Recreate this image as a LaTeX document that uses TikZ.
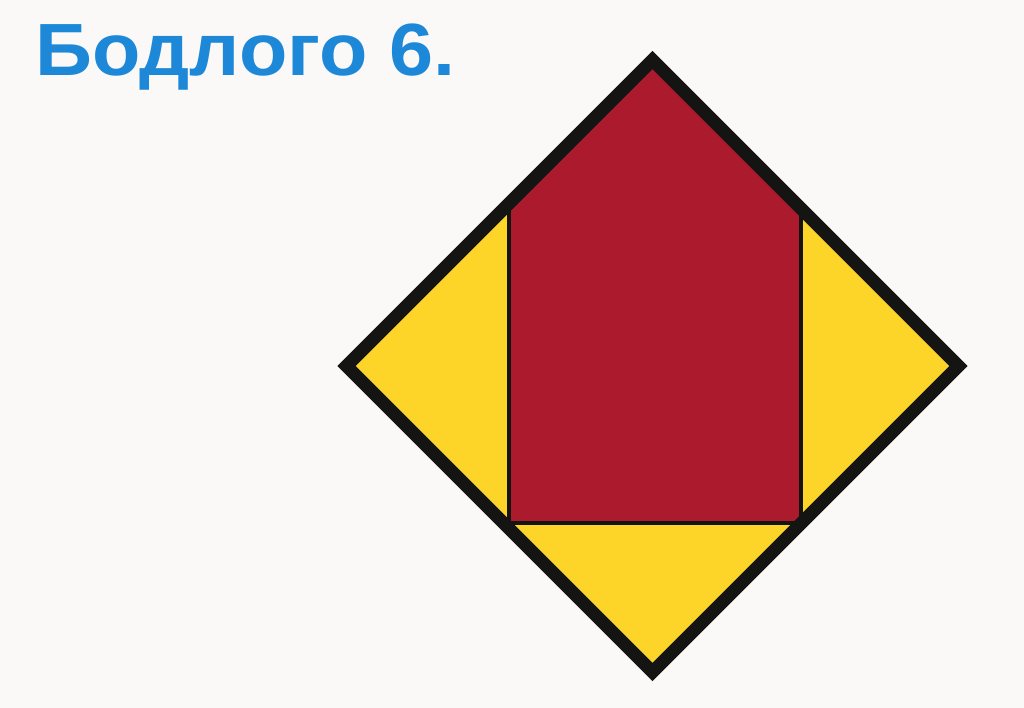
\documentclass[tikz,border=0pt]{standalone}
\usepackage{fontspec}
\setmainfont{Liberation Sans}
\definecolor{bg}{RGB}{251,249,248}
\definecolor{titleblue}{RGB}{30,136,216}
\definecolor{housered}{RGB}{172,26,46}
\definecolor{foldyellow}{RGB}{253,212,40}
\definecolor{edge}{RGB}{20,20,18}
\tikzset{
  outerline/.style={draw=edge, line width=13pt, line join=miter},
  innerline/.style={draw=edge, line width=4.5pt, line join=miter},
}
\begin{document}
\begin{tikzpicture}[x=1pt,y=-1pt]
\fill[bg] (0,0) rectangle (1024,708);
\useasboundingbox (0,0) rectangle (1024,708);
\node[anchor=base west, inner sep=0pt, text=titleblue, font=\fontsize{74}{80}\selectfont\bfseries] (title) at (35,76) {\scalebox{1.07}[1]{Бодлого 6.}};
\coordinate (T) at (652.5,60);
\coordinate (L) at (346.5,366);
\coordinate (R) at (958.5,366);
\coordinate (B) at (652.5,672);
\coordinate (A) at (509,203.5);
\coordinate (A2) at (509,523);
\coordinate (C2) at (801,523);
\coordinate (C) at (801,208.5);
\fill[foldyellow] (T) -- (R) -- (B) -- (L) -- cycle;
\fill[housered] (T) -- (A) -- (A2) -- (C2) -- (C) -- cycle;
\draw[innerline] (A) -- (A2) -- (C2) -- (C);
\draw[outerline] (T) -- (R) -- (B) -- (L) -- cycle;
\end{tikzpicture}
\end{document}
